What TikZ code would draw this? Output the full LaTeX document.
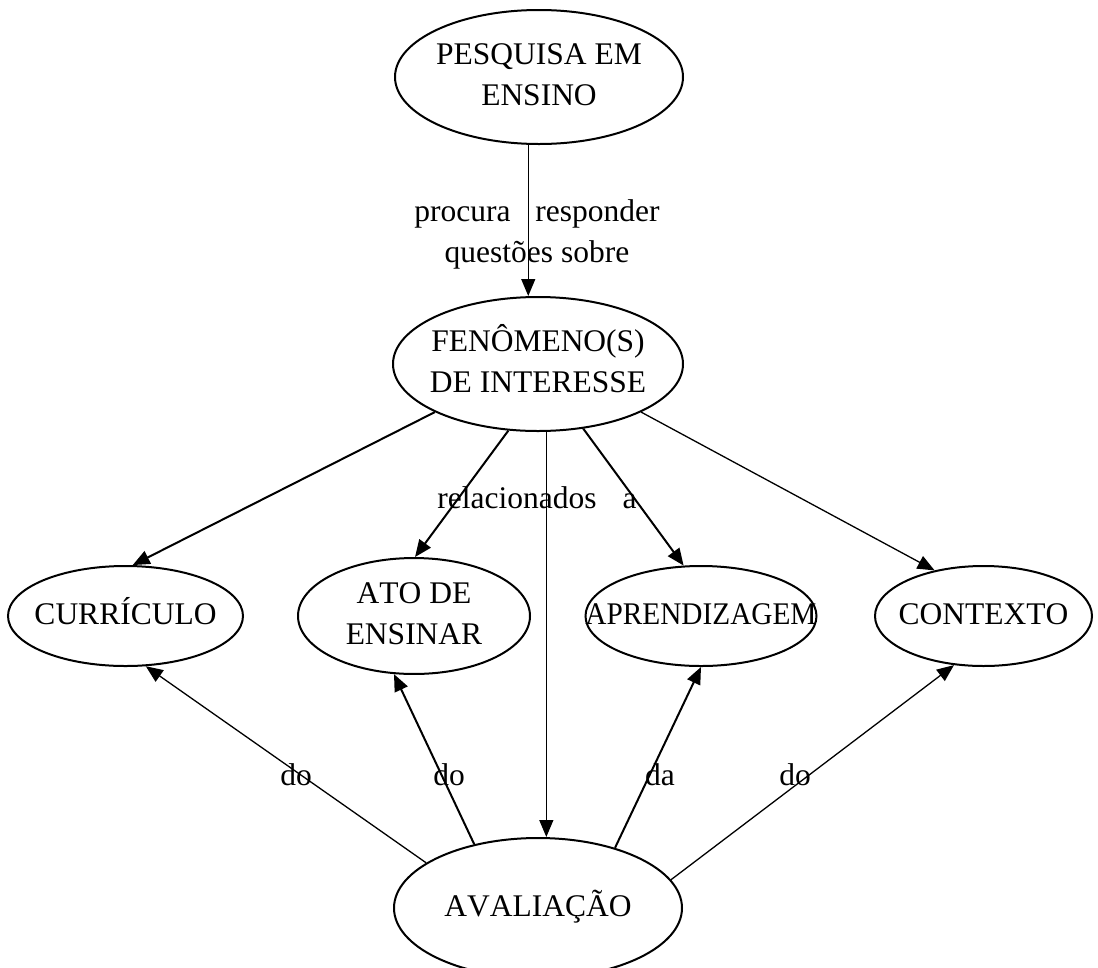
\documentclass[tikz,border=0pt]{standalone}
\usepackage{fontspec}
\setmainfont{Liberation Serif}[Kerning=Off]
\usetikzlibrary{shapes.geometric,arrows.meta}
% text centred on a concept without widening its ellipse
\newcommand\ctext[1]{\makebox[0pt]{\begin{tabular}{@{}c@{}}#1\end{tabular}}}
\begin{document}
\begin{tikzpicture}[x=1pt,y=-1pt,
  font=\fontsize{31.5}{41}\selectfont,
  concept/.style={ellipse, draw, line width=2pt, inner sep=0pt},
  tip/.style={-{Triangle[length=17pt,width=14pt]}},
  link/.style={tip, line width=2pt},
  thinlink/.style={tip, line width=1.3pt},
  lbl/.style={inner sep=0pt, align=center}]
\useasboundingbox (0,0) rectangle (1098,967);

% concepts
\node[concept, minimum width=288pt, minimum height=134pt] (pes) at (539,77) {\ctext{PESQUISA EM\\ENSINO}};
\node[concept, minimum width=290pt, minimum height=134pt] (fen) at (538,364) {\ctext{FENÔMENO(S)\\DE INTERESSE}};
\node[concept, minimum width=235pt, minimum height=100pt] (cur) at (125.5,616) {\ctext{CURRÍCULO}};
\node[concept, minimum width=232pt, minimum height=100pt] (ato) at (414,616) {\ctext{ATO DE\\ENSINAR}};
\node[concept, minimum width=231pt, minimum height=100pt] (apr) at (701,616) {\ctext{\scalebox{0.93}[1]{APRENDIZAGEM}}};
\node[concept, minimum width=217pt, minimum height=100pt] (con) at (983.5,616) {\ctext{CONTEXTO}};
\node[concept, minimum width=288pt, minimum height=140pt] (ava) at (538,908) {\ctext{AVALIAÇÃO}};

% links
\draw[thinlink] (pes.261.5) -- (pes.261.5 |- fen.north);
\node[lbl] (l1) at (537,234) {procura\hspace{17pt} responder\\questões sobre};

\draw[link] (fen.205) -- (cur.82);
\draw[link] (fen.246.9) -- (ato.89);
\draw[thinlink] (fen.277.5) -- (fen.277.5 |- ava.north);
\draw[link] (fen.305.8) -- (apr.109.8);
\draw[thinlink] (fen.335) -- (con.137.2);
\node[lbl] (l2) at (537,498) {relacionados\hspace{18pt} a};

\draw[thinlink] (ava.158) -- (cur.292);
\draw[link] (ava.135) -- (ato.251);
\draw[link] (ava.38) -- (apr.270);
\draw[thinlink] (ava.12.2) -- (con.239.2);
\node[lbl] (l3) at (296,775) {do};
\node[lbl] (l4) at (449,775) {do};
\node[lbl] (l5) at (660,775) {da};
\node[lbl] (l6) at (795,775) {do};
\end{tikzpicture}
\end{document}
